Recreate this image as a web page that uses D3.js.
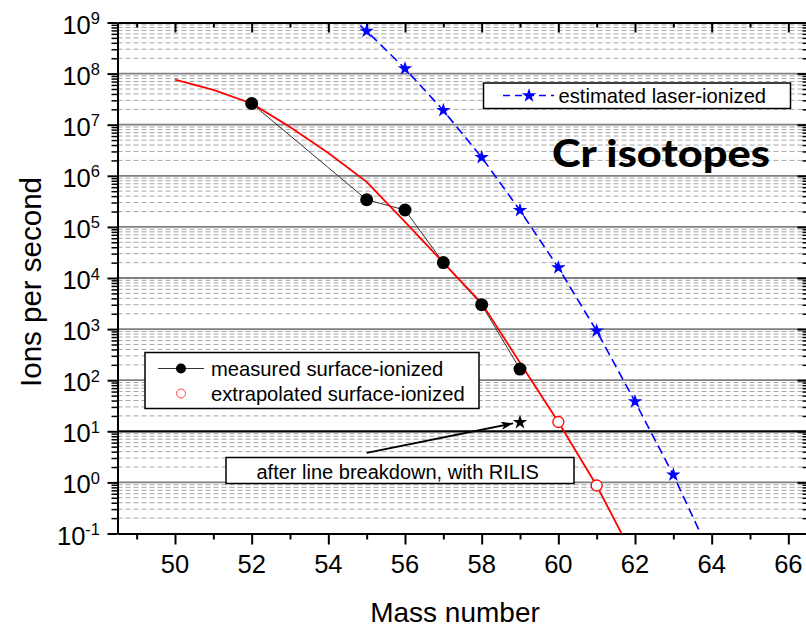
<!DOCTYPE html>
<html><head><meta charset="utf-8">
<script src="https://cdn.jsdelivr.net/npm/d3@7"></script>
<style>body{margin:0;background:#fff} svg{display:block}</style>
</head><body><svg id="c" width="806" height="630"></svg>
<script>
// ---------- data ----------
const massFit = [50, 51, 52, 53, 54, 55, 56, 57, 58, 59, 60, 61, 62];
const ionsFit = [7.6e7, 4.8e7, 2.6e7, 9.0e6, 2.8e6, 7.6e5, 1.26e5, 2.0e4, 3.2e3, 220, 15.2, 0.87, 0.031];
const massMeasured = [52, 55, 56, 57, 58, 59];
const ionsMeasured = [2.6e7, 3.4e5, 2.14e5, 2.0e4, 3.0e3, 165];
const massExtrap = [60, 61];
const ionsExtrap = [15.2, 0.87];
const massLaser = [54, 55, 56, 57, 58, 59, 60, 61, 62, 63, 64];
const ionsLaser = [3.0e9, 6.8e8, 1.25e8, 1.9e7, 2.3e6, 2.1e5, 1.6e4, 920, 38, 1.4, 0.034];
const massRilis = [59];
const ionsRilis = [15];
const arrowMass = [55, 58.82];
const arrowIons = [3.8, 14.3];
const xTickLabels = [50, 52, 54, 56, 58, 60, 62, 64, 66];
const xMinorTicks = [49, 51, 53, 55, 57, 59, 61, 63, 65];
const yTickExps = [9, 8, 7, 6, 5, 4, 3, 2, 1, 0, -1];

// ---------- setup ----------
const font = "'Liberation Sans', Arial, sans-serif";
const X0 = 117.5, X1 = 807.5, Y0 = 22.5, Y1 = 533.5;
const x = d3.scaleLinear().domain([48.5, 66.5]).range([X0, X1]);
const y = d3.scaleLog().domain([0.1, 1e9]).range([Y1, Y0]);
const svg = d3.select('#c');
svg.append('rect').attr('width', 806).attr('height', 630).attr('fill', '#fff');
svg.append('defs').append('clipPath').attr('id', 'clip')
  .append('rect').attr('x', X0).attr('y', Y0).attr('width', X1 - X0).attr('height', Y1 - Y0);

const majorVals = yTickExps.map(e => Math.pow(10, e));
const minorVals = [];
for (let e = -1; e < 9; e++) for (let k = 2; k <= 9; k++) minorVals.push(k * Math.pow(10, e));

// ---------- grid ----------
const grid = svg.append('g');
grid.selectAll('line.mi').data(minorVals).join('line').attr('class', 'mi')
  .attr('x1', X0).attr('x2', X1).attr('y1', d => y(d)).attr('y2', d => y(d))
  .attr('stroke', '#a6a6a6').attr('stroke-width', 1).attr('stroke-dasharray', '5,3');
grid.selectAll('line.ma').data(majorVals.filter(v => v > 0.1 && v < 1e9)).join('line').attr('class', 'ma')
  .attr('x1', X0).attr('x2', X1).attr('y1', d => y(d)).attr('y2', d => y(d))
  .attr('stroke', d => d === 10 ? '#000' : '#808080').attr('stroke-width', d => d === 10 ? 2.2 : 1.8);

// ---------- axes ----------
function styleAxis(g, w) {
  g.select('.domain').attr('stroke', '#000').attr('stroke-width', 2);
  g.selectAll('.tick line').attr('stroke', '#000').attr('stroke-width', w);
  g.selectAll('.tick text').remove();
}
svg.append('g').attr('transform', `translate(${X0},0)`)
  .call(d3.axisLeft(y).tickValues(minorVals).tickSize(6).tickSizeOuter(0).tickFormat(''))
  .call(g => styleAxis(g, 1.5));
svg.append('g').attr('transform', `translate(${X0},0)`)
  .call(d3.axisLeft(y).tickValues(majorVals).tickSize(10).tickSizeOuter(0).tickFormat(''))
  .call(g => styleAxis(g, 2));
svg.append('g').attr('transform', `translate(${X1},0)`)
  .call(d3.axisLeft(y).tickValues(minorVals).tickSize(5).tickSizeOuter(0).tickFormat(''))
  .call(g => styleAxis(g, 1.5));
svg.append('g').attr('transform', `translate(${X1},0)`)
  .call(d3.axisLeft(y).tickValues(majorVals).tickSize(10).tickSizeOuter(0).tickFormat(''))
  .call(g => styleAxis(g, 2));
svg.append('g').attr('transform', `translate(0,${Y1})`)
  .call(d3.axisBottom(x).tickValues(xMinorTicks).tickSize(6).tickSizeOuter(0).tickFormat(''))
  .call(g => styleAxis(g, 2));
svg.append('g').attr('transform', `translate(0,${Y1})`)
  .call(d3.axisBottom(x).tickValues(xTickLabels).tickSize(11).tickSizeOuter(0).tickFormat(''))
  .call(g => styleAxis(g, 2));
svg.append('g').attr('transform', `translate(0,${Y0})`)
  .call(d3.axisBottom(x).tickValues(xMinorTicks).tickSize(5).tickSizeOuter(0).tickFormat(''))
  .call(g => styleAxis(g, 2));
svg.append('g').attr('transform', `translate(0,${Y0})`)
  .call(d3.axisBottom(x).tickValues(xTickLabels).tickSize(10).tickSizeOuter(0).tickFormat(''))
  .call(g => styleAxis(g, 2));

// tick labels
const yl = svg.append('g').attr('font-family', font).attr('fill', '#000');
yTickExps.forEach(e => {
  const t = yl.append('text').attr('x', 100).attr('y', y(Math.pow(10, e)) + 11)
    .attr('text-anchor', 'end').attr('font-size', 25.5);
  t.append('tspan').text('10');
  t.append('tspan').attr('font-size', 16.5).attr('dy', -9.5).text(String(e));
});
svg.append('g').selectAll('text').data(xTickLabels).join('text')
  .attr('x', d => x(d)).attr('y', 573).attr('text-anchor', 'middle')
  .attr('font-family', font).attr('font-size', 25.5).text(d => d);

// axis titles
svg.append('text').attr('x', 455).attr('y', 622).attr('text-anchor', 'middle')
  .attr('font-family', font).attr('font-size', 28).text('Mass number');
svg.append('text').attr('transform', 'translate(41,282) rotate(-90)').attr('text-anchor', 'middle')
  .attr('font-family', font).attr('font-size', 29.5).text('Ions per second');

// ---------- data marks ----------
const plot = svg.append('g').attr('clip-path', 'url(#clip)');
const line = d3.line().x(d => x(d[0])).y(d => y(d[1]));

const measured = massMeasured.map((m, i) => [m, ionsMeasured[i]]);
plot.append('path').datum(measured).attr('d', line).attr('fill', 'none')
  .attr('stroke', '#333').attr('stroke-width', 1);

const fit = massFit.map((m, i) => [m, ionsFit[i]]);
plot.append('path').datum(fit).attr('d', line).attr('fill', 'none')
  .attr('stroke', '#ff0000').attr('stroke-width', 1.8);

const laser = massLaser.map((m, i) => [m, ionsLaser[i]]);
plot.append('path').datum(laser).attr('d', line).attr('fill', 'none')
  .attr('stroke', '#0000ff').attr('stroke-width', 1.6).attr('stroke-dasharray', '9,5');

const starSym = d3.symbol().type(d3.symbolStar).size(65);
plot.selectAll('path.ls').data(laser).join('path').attr('class', 'ls')
  .attr('transform', d => `translate(${x(d[0])},${y(d[1])})`).attr('d', starSym).attr('fill', '#0000ff');

plot.selectAll('circle.ms').data(measured).join('circle').attr('class', 'ms')
  .attr('cx', d => x(d[0])).attr('cy', d => y(d[1])).attr('r', 6.5).attr('fill', '#000');

const extrap = massExtrap.map((m, i) => [m, ionsExtrap[i]]);
plot.selectAll('circle.ex').data(extrap).join('circle').attr('class', 'ex')
  .attr('cx', d => x(d[0])).attr('cy', d => y(d[1])).attr('r', 5.5)
  .attr('fill', '#fff').attr('stroke', '#ff0000').attr('stroke-width', 1.3);

const rilis = massRilis.map((m, i) => [m, ionsRilis[i]]);
plot.selectAll('path.rs').data(rilis).join('path').attr('class', 'rs')
  .attr('transform', d => `translate(${x(d[0])},${y(d[1])})`).attr('d', starSym).attr('fill', '#000');

// ---------- arrow annotation ----------
svg.append('defs').append('marker').attr('id', 'ah').attr('viewBox', '0 0 12 8')
  .attr('refX', 12).attr('refY', 4).attr('markerWidth', 12).attr('markerHeight', 8)
  .attr('markerUnits', 'userSpaceOnUse').attr('orient', 'auto')
  .append('path').attr('d', 'M0,0 L12,4 L0,8 L3,4 Z').attr('fill', '#000');
svg.append('line')
  .attr('x1', x(arrowMass[0])).attr('y1', y(arrowIons[0]))
  .attr('x2', x(arrowMass[1])).attr('y2', y(arrowIons[1]))
  .attr('stroke', '#000').attr('stroke-width', 1.8).attr('marker-end', 'url(#ah)');

svg.append('rect').attr('x', 226).attr('y', 457.5).attr('width', 348).attr('height', 26)
  .attr('fill', '#fff').attr('stroke', '#000').attr('stroke-width', 1.5);
svg.append('text').attr('x', 256.5).attr('y', 478.5).attr('font-family', font).attr('font-size', 20)
  .text('after line breakdown, with RILIS');

// ---------- legends ----------
svg.append('rect').attr('x', 145).attr('y', 352.5).attr('width', 334).attr('height', 56)
  .attr('fill', '#fff').attr('stroke', '#000').attr('stroke-width', 1.5);
svg.append('line').attr('x1', 158).attr('x2', 204).attr('y1', 368.5).attr('y2', 368.5)
  .attr('stroke', '#333').attr('stroke-width', 1);
svg.append('circle').attr('cx', 181).attr('cy', 368.5).attr('r', 5).attr('fill', '#000');
svg.append('text').attr('x', 211).attr('y', 375.5).attr('font-family', font).attr('font-size', 20.2)
  .text('measured surface-ionized');
svg.append('circle').attr('cx', 181).attr('cy', 393.5).attr('r', 4.5)
  .attr('fill', '#fff').attr('stroke', '#ff4040').attr('stroke-width', 1);
svg.append('text').attr('x', 211).attr('y', 400.5).attr('font-family', font).attr('font-size', 20.2)
  .text('extrapolated surface-ionized');

svg.append('rect').attr('x', 483.5).attr('y', 83).attr('width', 307).attr('height', 25.5)
  .attr('fill', '#fff').attr('stroke', '#000').attr('stroke-width', 1.5);
svg.append('line').attr('x1', 503).attr('x2', 554).attr('y1', 95.5).attr('y2', 95.5)
  .attr('stroke', '#0000ff').attr('stroke-width', 1.6).attr('stroke-dasharray', '7,5');
svg.append('path').attr('transform', 'translate(529,95.5)').attr('d', starSym).attr('fill', '#0000ff');
svg.append('text').attr('x', 558.5).attr('y', 102.5).attr('font-family', font).attr('font-size', 20.2)
  .text('estimated laser-ionized');

svg.append('text').attr('x', 552).attr('y', 167).attr('font-family', "Lato, 'Open Sans', sans-serif")
  .attr('font-weight', 900).attr('font-size', 37)
  .attr('textLength', 218).attr('lengthAdjust', 'spacingAndGlyphs').text('Cr isotopes');
</script></body></html>
